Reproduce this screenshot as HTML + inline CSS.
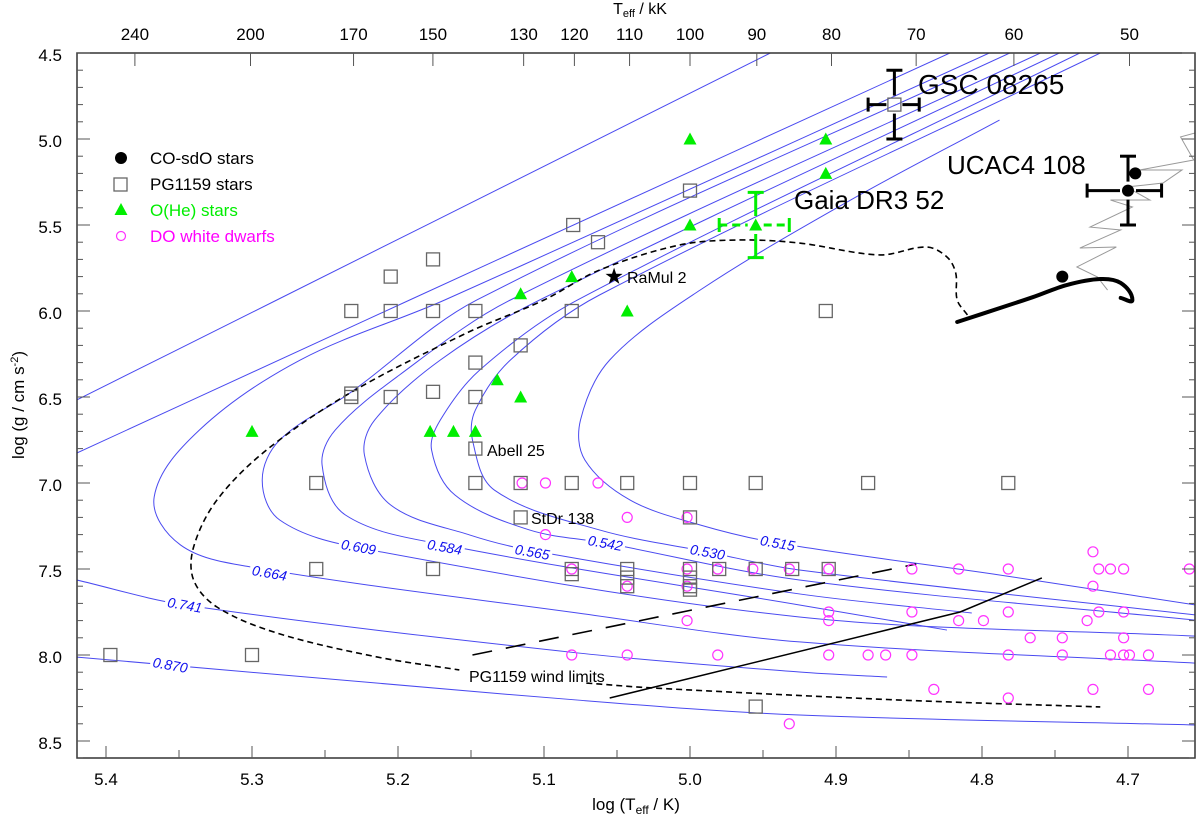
<!DOCTYPE html>
<html><head><meta charset="utf-8"><style>
html,body{margin:0;padding:0;background:#fff}
svg{display:block;font-family:"Liberation Sans",sans-serif}
</style></head><body>
<svg id="c" width="1200" height="817" viewBox="0 0 1200 817"></svg>
<script>
// ---- data ----
const xTicks=[5.4,5.3,5.2,5.1,5.0,4.9,4.8,4.7];
const yTicks=[4.5,5.0,5.5,6.0,6.5,7.0,7.5,8.0,8.5];
const topTicks=[240,200,170,150,130,120,110,100,90,80,70,60,50];
const trackMasses=["0.870","0.741","0.664","0.609","0.584","0.565","0.542","0.530","0.515"];
const trackT=[
[[5.420,5.283,4.945],[5.420,5.077,4.925,4.654]],
[[5.420,5.192,4.822],[5.420,5.346,5.077,4.925,4.865]],
[[4.795,5.168,5.267,5.336,5.367,5.349,5.301,5.077,4.925,4.654]],
[[4.781,5.146,5.233,5.281,5.293,5.281,5.226,4.925,4.654]],
[[4.760,5.123,5.199,5.243,5.252,5.236,5.168,4.925,4.824]],
[[4.747,5.103,5.171,5.216,5.223,5.205,5.151,5.110,4.925,4.807]],
[[4.733,5.077,5.144,5.171,5.177,5.161,5.110,5.058,4.925,4.654]],
[[4.719,5.062,5.123,5.147,5.149,5.134,5.062,4.988,4.925,4.654]],
[[4.788,4.890,4.993,5.055,5.075,5.072,5.041,4.993,4.940,4.788,4.654]]];
const trackG=[
[[6.517,5.936,4.5],[8.012,8.262,8.349,8.407]],
[[6.826,5.936,4.5],[7.564,7.709,7.988,8.099,8.128]],
[[4.5,5.936,6.285,6.692,7.081,7.360,7.488,7.756,7.924,8.047]],
[[4.5,5.936,6.477,6.750,6.983,7.215,7.378,7.779,7.890]],
[[4.5,5.936,6.372,6.692,6.895,7.186,7.360,7.709,7.855]],
[[4.5,5.936,6.285,6.634,6.837,7.128,7.302,7.390,7.645,7.756]],
[[4.5,5.936,6.343,6.634,6.808,7.070,7.273,7.349,7.564,7.797]],
[[4.5,5.907,6.285,6.576,6.750,7.041,7.273,7.401,7.506,7.767]],
[[4.890,5.355,5.878,6.285,6.634,6.866,7.099,7.244,7.349,7.535,7.709]]];
const labelT=[5.356,5.346,5.288,5.227,5.168,5.108,5.058,4.988,4.940];
const labelG=[8.058,7.709,7.523,7.372,7.372,7.401,7.349,7.401,7.349];
const dashT=[4.810,4.817,4.818,4.824,4.838,4.870,4.925,4.966,5.007,5.062,5.100,5.153,5.233,5.290,5.324,5.340,5.340,5.324,5.283,5.214,5.158];
const dashG=[6.023,5.936,5.779,5.686,5.628,5.674,5.605,5.587,5.616,5.762,5.936,6.128,6.477,6.808,7.099,7.372,7.564,7.721,7.872,8.012,8.087];
const dash2T=[5.071,5.025,4.856,4.719];
const dash2G=[8.163,8.192,8.262,8.302];
const windT=[5.149,4.845];const windG=[8.0,7.471];
const solidT=[5.055,4.815,4.759];const solidG=[8.25,7.75,7.552];
const thickT=[4.817,4.765,4.742,4.719,4.705,4.697,4.705];
const thickG=[6.064,5.919,5.849,5.814,5.837,5.936,5.924];
const grayT=[4.654,4.664,4.655,4.692,4.663,4.676,4.701,4.685,4.712,4.697,4.726,4.705,4.733,4.708,4.735,4.721,4.714];
const grayG=[4.965,4.988,5.122,5.180,5.180,5.256,5.279,5.355,5.355,5.395,5.512,5.529,5.634,5.628,5.744,5.802,5.878];
const pgT=[4.860,5.0,5.08,5.063,5.205,5.176,5.232,5.205,5.176,5.147,5.081,4.907,5.116,5.147,5.232,5.232,5.205,5.176,5.147,5.147,5.256,5.147,5.116,5.081,5.043,5.0,4.955,4.878,4.782,5.116,5.0,5.256,5.176,5.081,5.081,5.043,5.043,5.0,5.0,5.0,4.98,4.955,4.93,4.905,5.043,5.0,5.397,5.3,4.955];
const pgG=[4.80,5.3,5.5,5.6,5.8,5.7,6.0,6.0,6.0,6.0,6.0,6.0,6.2,6.3,6.5,6.48,6.5,6.47,6.5,6.8,7.0,7.0,7.0,7.0,7.0,7.0,7.0,7.0,7.0,7.2,7.2,7.5,7.5,7.5,7.53,7.5,7.55,7.5,7.55,7.62,7.5,7.5,7.5,7.5,7.6,7.6,8.0,8.0,8.3];
const oheT=[5.0,4.907,4.907,5.0,4.955,5.081,5.116,5.043,5.132,5.116,5.3,5.178,5.162,5.147];
const oheG=[5.0,5.0,5.2,5.5,5.5,5.8,5.9,6.0,6.4,6.5,6.7,6.7,6.7,6.7];
const doT=[5.115,5.099,5.063,5.043,5.002,5.099,5.081,5.002,4.981,4.957,4.932,4.905,4.848,4.816,4.782,4.720,4.712,4.703,4.658,4.724,5.043,5.002,4.905,4.848,4.782,4.720,4.703,5.002,4.905,4.816,4.799,4.728,4.767,4.745,4.703,5.081,5.043,4.981,4.905,4.878,4.866,4.848,4.782,4.745,4.712,4.703,4.699,4.686,4.833,4.724,4.686,4.782,4.932,4.724];
const doG=[7.0,7.0,7.0,7.2,7.2,7.3,7.5,7.5,7.5,7.5,7.5,7.5,7.5,7.5,7.5,7.5,7.5,7.5,7.5,7.6,7.6,7.6,7.75,7.75,7.75,7.75,7.75,7.8,7.8,7.8,7.8,7.8,7.9,7.9,7.9,8.0,8.0,8.0,8.0,8.0,8.0,8.0,8.0,8.0,8.0,8.0,8.0,8.0,8.2,8.2,8.2,8.25,8.4,7.4];
const cosdoT=[4.700,4.695,4.745];const cosdoG=[5.30,5.20,5.80];

// ---- axes ----
const X=v=>106+(5.4-v)*1460;
const Y=v=>53+(v-4.5)*172;
const L=77,R=1195,T=53,B=758;
const NS="http://www.w3.org/2000/svg";
const svg=document.getElementById('c');
function mk(tag,attrs,parent){const e=document.createElementNS(NS,tag);for(const k in attrs)e.setAttribute(k,attrs[k]);(parent||svg).appendChild(e);return e;}
function tan(pts,i){const p0=pts[i-1]||pts[i],p2=pts[i+1]||pts[i];const dx=p2[0]-p0[0],dy=p2[1]-p0[1];const n=Math.hypot(dx,dy)||1;return [dx/n,dy/n];}
function smooth(pts){let d=`M${pts[0][0]},${pts[0][1]}`;for(let i=0;i<pts.length-1;i++){const p1=pts[i],p2=pts[i+1];
const s=Math.hypot(p2[0]-p1[0],p2[1]-p1[1])/3;const t1=tan(pts,i),t2=tan(pts,i+1);
d+=` C${p1[0]+t1[0]*s},${p1[1]+t1[1]*s} ${p2[0]-t2[0]*s},${p2[1]-t2[1]*s} ${p2[0]},${p2[1]}`;}return d;}
function pts(ts,gs){return ts.map((t,i)=>[X(t),Y(gs[i])]);}

mk('defs',{}).innerHTML='<clipPath id="pc"><rect x="77" y="53" width="1118" height="705"/></clipPath>';
const plot=mk('g',{'clip-path':'url(#pc)'});



trackT.forEach((segs,k)=>{segs.forEach((ts,j)=>{
 const p=mk('path',{d:smooth(pts(ts,trackG[k][j])),fill:'none',stroke:'#4a4af0','stroke-width':1},plot);
 
 
});});
trackMasses.forEach((m,k)=>{
 const g=mk('g',{transform:`translate(${X(labelT[k])},${Y(labelG[k])}) rotate(10)`},plot);
 
 
 mk('rect',{x:-20,y:-9,width:40,height:17,fill:'#fff'},g);
 const t=mk('text',{x:0,y:5,'text-anchor':'middle','font-size':14,'font-style':'italic',fill:'#1010ee'},g);t.textContent=m;
});
let gp=mk('path',{d:'M'+pts(grayT,grayG).map(p=>p.join(',')).join(' L'),fill:'none',stroke:'#999','stroke-width':1},plot);

let dp=mk('path',{d:smooth(pts(dashT,dashG)),fill:'none',stroke:'#000','stroke-width':1.6,'stroke-dasharray':'6,4'},plot);

dp=mk('path',{d:smooth(pts(dash2T,dash2G)),fill:'none',stroke:'#000','stroke-width':1.6,'stroke-dasharray':'6,4'},plot);

let wl=mk('path',{d:'M'+pts(windT,windG).map(p=>p.join(',')).join(' L'),fill:'none',stroke:'#000','stroke-width':1.6,'stroke-dasharray':'20,14'},plot);

let sl=mk('path',{d:'M'+pts(solidT,solidG).map(p=>p.join(',')).join(' L'),fill:'none',stroke:'#000','stroke-width':1.5},plot);

let th=mk('path',{d:smooth(pts(thickT,thickG)),fill:'none',stroke:'#000','stroke-width':4,'stroke-linecap':'round'},plot);


doT.forEach((t,i)=>{const c=mk('circle',{cx:X(t),cy:Y(doG[i]),r:5,fill:'none',stroke:'#ff33ff','stroke-width':1.2},plot);
});
pgT.forEach((t,i)=>{const r=mk('rect',{x:X(t)-6.5,y:Y(pgG[i])-6.5,width:13,height:13,fill:'none',stroke:'#666','stroke-width':1.3},plot);
});
oheT.forEach((t,i)=>{const x=X(t),y=Y(oheG[i]);const p=mk('polygon',{points:`${x-6.5},${y+5.5} ${x+6.5},${y+5.5} ${x},${y-6.5}`,fill:'#00ee00'},plot);
});
cosdoT.forEach((t,i)=>{const c=mk('circle',{cx:X(t),cy:Y(cosdoG[i]),r:6,fill:'#000'},plot);
});

function err(t,g,tl,th2,gl,gh,col,name,dashH){const gE=mk('g',{stroke:col,'stroke-width':3,fill:'none'});

const x=X(t),y=Y(g),x1=X(tl),x2=X(th2),y1=Y(gl),y2=Y(gh);
mk('line',{x1:x1,y1:y,x2:x-8,y2:y,'stroke-dasharray':dashH?'8,5':'none'},gE);mk('line',{x1:x+8,y1:y,x2:x2,y2:y,'stroke-dasharray':dashH?'8,5':'none'},gE);
mk('line',{x1:x1,y1:y-7,x2:x1,y2:y+7},gE);mk('line',{x1:x2,y1:y-7,x2:x2,y2:y+7},gE);
mk('line',{x1:x,y1:y1,x2:x,y2:y-9},gE);mk('line',{x1:x,y1:y+9,x2:x,y2:y2},gE);
mk('line',{x1:x-8,y1:y1,x2:x+8,y2:y1},gE);mk('line',{x1:x-8,y1:y2,x2:x+8,y2:y2},gE);}
err(4.860,4.80,4.878,4.843,4.6,5.0,'#000','gsc-errorbar',false);
err(4.700,5.30,4.728,4.677,5.1,5.5,'#000','ucac4-errorbar',false);
err(4.955,5.50,4.98,4.932,5.31,5.69,'#00ee00','gaia-errorbar',true);
{const x=X(5.052),y=Y(5.80);let s='';for(let i=0;i<10;i++){const r=i%2?3.5:9,a=-Math.PI/2+i*Math.PI/5;s+=`${x+r*Math.cos(a)},${y+r*Math.sin(a)} `;}
const p=mk('polygon',{points:s,fill:'#000'});}

function txt(x,y,s,size,name,extra){const t=mk('text',Object.assign({x:x,y:y,'font-size':size,fill:'#000'},extra||{}));t.textContent=s;
return t;}
txt(627,283,'RaMul 2',16,'label-ramul2');
txt(487,456,'Abell 25',16,'label-abell25');
txt(531,524,'StDr 138',16,'label-stdr138');
txt(918,94,'GSC 08265',28,'label-gsc08265');
txt(947,174,'UCAC4 108',26,'label-ucac4');
txt(794,209,'Gaia DR3 52',26,'label-gaia');
txt(469,682,'PG1159 wind limits',16,'label-wind-limits');

let fr=mk('rect',{x:L,y:T,width:R-L,height:B-T,fill:'none',stroke:'#333','stroke-width':1.5});

const ax=mk('g',{stroke:'#555','stroke-width':1});
for(let v=4.65;v<=5.42;v+=0.05){const x=X(v);if(x<L||x>R)continue;const maj=Math.abs(v*10-Math.round(v*10))<0.01;mk('line',{x1:x,y1:B,x2:x,y2:B-(maj?12:8)},ax);}
for(let v=4.5;v<=8.61;v+=0.1){const y=Y(v);const maj=Math.abs(v*2-Math.round(v*2))<0.01;mk('line',{x1:L,y1:y,x2:L+(maj?13:6),y2:y},ax);mk('line',{x1:R,y1:y,x2:R-(maj?13:6),y2:y},ax);}
topTicks.forEach(k=>{const x=X(Math.log10(k*1000));mk('line',{x1:x,y1:T,x2:x,y2:T+13},ax);
txt(x,40,String(k),17,'top-tick-label',{'text-anchor':'middle'});});
xTicks.forEach(v=>{txt(X(v),785,v.toFixed(1),17,'x-tick-label',{'text-anchor':'middle'});});
yTicks.forEach(v=>{txt(62,Y(v)+8,v.toFixed(1),17,'y-tick-label',{'text-anchor':'end'});});
const xt=txt(636,810,'',17,'x-axis-title',{'text-anchor':'middle'});xt.innerHTML='log (T<tspan font-size="12" dy="4">eff</tspan><tspan dy="-4"> / K)</tspan>';
const tt=txt(640,14,'',16,'top-axis-title',{'text-anchor':'middle'});tt.innerHTML='T<tspan font-size="11" dy="3">eff</tspan><tspan dy="-3"> / kK</tspan>';
const yt=txt(0,0,'',17,'y-axis-title',{'text-anchor':'middle',transform:'translate(24,405) rotate(-90)'});yt.innerHTML='log (g / cm s<tspan font-size="11" dy="-6">-2</tspan><tspan dy="6">)</tspan>';
const lg=mk('g',{});
mk('circle',{cx:121,cy:158,r:6,fill:'#000'},lg);
mk('rect',{x:114,y:178,width:13,height:13,fill:'none',stroke:'#666','stroke-width':1.3},lg);
mk('polygon',{points:'114.5,215 127.5,215 121,203',fill:'#00ee00'},lg);
mk('circle',{cx:121,cy:236,r:4.5,fill:'none',stroke:'#ff33ff','stroke-width':1.2},lg);
[['CO-sdO stars','#000'],['PG1159 stars','#000'],['O(He) stars','#00ee00'],['DO white dwarfs','#ff00ff']].forEach((e,i)=>{
const t=mk('text',{x:150,y:164+i*26,'font-size':17,fill:e[1]},lg);t.textContent=e[0];
});
</script>
</body></html>
